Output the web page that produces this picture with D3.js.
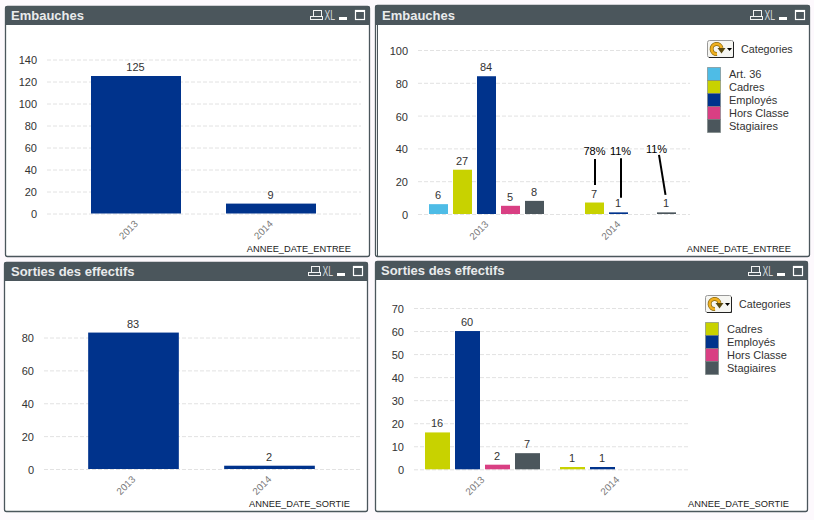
<!DOCTYPE html>
<html><head><meta charset="utf-8">
<script src="https://cdnjs.cloudflare.com/ajax/libs/d3/7.8.5/d3.min.js"></script>
<style>
html,body{margin:0;padding:0;background:#fdf9fd;}
svg{display:block;font-family:"Liberation Sans",Arial,sans-serif;}
.grid line{stroke:#e2e2e2;stroke-dasharray:4 2;}
</style></head><body>
<svg id="c" width="814" height="520"></svg>
<script>
const years = ["2013","2014"];
const entreeTitle = "Embauches";
const sortieTitle = "Sorties des effectifs";
const entreeField = "ANNEE_DATE_ENTREE";
const sortieField = "ANNEE_DATE_SORTIE";
const legendTitle = "Categories";

const totalEntrees = [125,9];
const totalSorties = [83,2];

const entreeCats = ["Art. 36","Cadres","Employés","Hors Classe","Stagiaires"];
const entree2013 = [6,27,84,5,8];
const entree2014 = [null,7,1,null,1];
const entree2014Pct = [null,"78%","11%",null,"11%"];

const sortieCats = ["Cadres","Employés","Hors Classe","Stagiaires"];
const sortie2013 = [16,60,2,7];
const sortie2014 = [1,1,null,null];

const ticksA = [0,20,40,60,80,100,120,140];
const ticksB = [0,20,40,60,80,100];
const ticksC = [0,20,40,60,80];
const ticksD = [0,10,20,30,40,50,60,70];

const catColor = d3.scaleOrdinal()
  .domain(["Art. 36","Cadres","Employés","Hors Classe","Stagiaires"])
  .range(["#4ebce6","#c8d200","#00338c","#d93f83","#4b565c"]);
const BLUE = "#00338c", HEAD = "#4b565c", TXT = "#333";

const svg = d3.select("#c");

function panel(b){
  const g = svg.append("g");
  g.append("rect").attr("x",b.x+.5).attr("y",b.y+.5).attr("width",b.w).attr("height",b.h)
    .attr("rx",2).attr("fill","#fff").attr("stroke",HEAD).attr("stroke-width",1.3);
  if(b.dbl) g.append("path").attr("d",`M${b.x+2.5} ${b.y+b.hh}V${b.y+b.h}`).attr("stroke",HEAD).attr("fill","none");
  g.append("path").attr("fill",HEAD)
    .attr("d",`M${b.x} ${b.y+b.hh}V${b.y+2}q0-2 2-2H${b.x+b.w-1}q2 0 2 2V${b.y+b.hh}Z`);
  g.append("text").attr("x",b.x+b.tx).attr("y",b.ty).attr("fill","#e9ebec")
    .attr("font-size",13).attr("font-weight","bold").text(b.title);
  const r = b.x+b.w, t = b.iy;
  const ic = g.append("g").attr("fill","none").attr("stroke","#f2f3f3");
  ic.append("rect").attr("x",r-55.5).attr("y",t+.5).attr("width",8).attr("height",6);
  ic.append("rect").attr("x",r-58.5).attr("y",t+6.5).attr("width",12).attr("height",3);
  g.append("text").attr("transform",`translate(${r-44.5},${t+10}) scale(.62,1)`).attr("fill","#d4d8da")
    .attr("font-size",14).text("XL");
  g.append("rect").attr("x",r-30).attr("y",t+7).attr("width",8).attr("height",3).attr("fill","#fff");
  ic.append("rect").attr("x",r-13.5).attr("y",t+.5).attr("width",9).attr("height",9)
    .attr("stroke-width",1.2).attr("stroke","#fff");
  ic.append("rect").attr("x",r-14).attr("y",t).attr("width",10).attr("height",2).attr("fill","#fff").attr("stroke","none");
  return g;
}

function yAxis(g,y,ticks,x0,x1){
  const gr = g.append("g").attr("class","grid").attr("transform",`translate(${x0},0)`)
    .call(d3.axisRight(y).tickValues(ticks).tickSize(x1-x0).tickFormat(""));
  gr.select(".domain").remove();
  const a = g.append("g").attr("transform",`translate(${x0-10},0)`)
    .call(d3.axisLeft(y).tickValues(ticks).tickSize(0).tickPadding(0));
  a.select(".domain").remove();
  a.selectAll("text").attr("font-size",11).attr("font-family","inherit").attr("fill",TXT).attr("dy","4.4px");
}

function xAxis(g,x,y0){
  const a = g.append("g").attr("transform",`translate(0,${y0})`).call(d3.axisBottom(x).tickSize(0).tickPadding(0));
  a.select(".domain").remove();
  a.selectAll("text").attr("font-size",9.8).attr("font-family","inherit").attr("fill","#777")
    .attr("text-anchor","end").attr("dy",0)
    .attr("transform","translate(2.5,11) rotate(-45)");
}

function valueLabel(g,x,y,v){
  g.append("text").attr("x",x-.5).attr("y",y-5).attr("text-anchor","middle")
    .attr("font-size",11).attr("fill",TXT).text(v);
}

function fieldLabel(g,o){
  g.append("text").attr("x",o.fx).attr("y",o.fy).attr("text-anchor","end").attr("font-size",9.3).attr("fill","#222").text(o.field);
}

function totals(g,vals,o){
  const x = d3.scaleBand().domain(years).range(o.xr).paddingInner(o.pad).paddingOuter(o.pad/2);
  const y = d3.scaleLinear().domain([0,o.max]).range(o.yr);
  yAxis(g,y,o.ticks,o.gx[0],o.gx[1]);
  g.selectAll("rect.bar").data(years).join("rect").attr("class","bar")
    .attr("x",d=>x(d)).attr("width",x.bandwidth())
    .attr("y",(d,i)=>y(vals[i])).attr("height",(d,i)=>y(0)-y(vals[i])).attr("fill",BLUE);
  years.forEach((d,i)=>valueLabel(g,x(d)+x.bandwidth()/2,y(vals[i]),vals[i]));
  xAxis(g,x,y(0));
  fieldLabel(g,o);
}

function grouped(g,cats,series,o){
  const x0 = d3.scaleBand().domain(years).range(o.xr);
  const x1 = d3.scaleBand().domain(cats).range([x0.bandwidth()/2-o.step*cats.length/2,x0.bandwidth()/2+o.step*cats.length/2]).padding(0);
  const y = d3.scaleLinear().domain([0,o.max]).range(o.yr);
  yAxis(g,y,o.ticks,o.gx[0],o.gx[1]);
  years.forEach((yr,si)=>{
    cats.forEach((c,i)=>{
      const v = series[si][i];
      if(v==null) return;
      const bx = x0(yr)+x1(c)+(o.step-o.bw)/2;
      g.append("rect").attr("x",bx).attr("width",o.bw).attr("y",y(v)).attr("height",y(0)-y(v)).attr("fill",catColor(c));
      valueLabel(g,bx+o.bw/2,y(v),v);
      if(o.pct && si===1 && o.pct[i]){
        const cx = bx+o.bw/2, top = y(v)-o.lift[i], lx = cx+o.ldx[i];
        const path = `M${lx} ${top}L${lx-o.lean[i]} ${top-o.len[i]}`;
        g.append("path").attr("d",path).attr("fill","none").attr("stroke","#000").attr("stroke-width",2);
        g.append("text").attr("x",cx+o.pdx[i]).attr("y",top-o.len[i]-o.pdy[i]).attr("text-anchor","middle")
          .attr("font-size",11).attr("fill","#000").text(o.pct[i]);
      }
    });
  });
  xAxis(g,x0,y(0));
  fieldLabel(g,o);
  legend(g,cats,o.lx,o.ly);
}

function legend(g,cats,lx,ly){
  const bt = g.append("g").attr("transform",`translate(${lx},${ly-27})`);
  bt.append("rect").attr("x",.5).attr("y",.5).attr("width",26).attr("height",17).attr("rx",2).attr("fill","#f6f6f2").attr("stroke","#999");
  bt.append("path").attr("d","M26.5 2V17.5H2").attr("fill","none").attr("stroke","#222");
  const arc = "M10 14A5 5 0 1 1 14.5 8";
  bt.append("path").attr("d",arc).attr("fill","none").attr("stroke","#8a6a10").attr("stroke-width",4);
  bt.append("path").attr("d",arc).attr("fill","none").attr("stroke","#f0b020").attr("stroke-width",2.6);
  bt.append("path").attr("d","M10.5 8H18.5L14.5 13.5Z").attr("fill","#5a4a10");
  bt.append("path").attr("d","M20 8H25L22.5 11Z").attr("fill","#000");
  g.append("text").attr("x",lx+34).attr("y",ly-14.5).attr("font-size",10.7).attr("fill",TXT).text(legendTitle);
  const y = d3.scaleBand().domain(cats).range([ly,ly+13*cats.length]);
  cats.forEach(c=>{
    g.append("rect").attr("x",lx+.5).attr("y",y(c)+.5).attr("width",13).attr("height",y.bandwidth()).attr("fill",catColor(c)).attr("stroke","#77807f").attr("stroke-opacity",.6);
    g.append("text").attr("x",lx+22).attr("y",y(c)+10.5).attr("font-size",11).attr("fill",TXT).text(c);
  });
}

const p1 = panel({x:5,y:6,w:364,h:250,hh:19,tx:6,ty:20,iy:10,title:entreeTitle});
totals(p1,totalEntrees,{xr:[68.5,338.5],pad:1/3,max:140,yr:[213.5,59.5],ticks:ticksA,gx:[47,361],field:entreeField,fx:351,fy:252});

const p2 = panel({x:375,y:5,w:434,h:251,hh:20,tx:7,ty:20,iy:10,dbl:true,title:entreeTitle});
grouped(p2,entreeCats,[entree2013,entree2014],{xr:[420.5,684.5],step:24,bw:19,max:100,yr:[214,50],ticks:ticksB,gx:[418,690],
  field:entreeField,fx:791,fy:252,lx:707,ly:67,pct:entree2014Pct,
  lift:[0,17.5,14.7,0,17.4],len:[0,26,39.4,0,40],ldx:[0,.5,2.5,0,-1],lean:[0,0,0,0,6.5],pdx:[0,0,2,0,-10],pdy:[0,4,3.3,0,1.7]});

const p3 = panel({x:4,y:262,w:363,h:249,hh:19,tx:7,ty:276,iy:266,title:sortieTitle});
totals(p3,totalSorties,{xr:[65.5,337.5],pad:1/3,max:80,yr:[469,337.5],ticks:ticksC,gx:[44,360],field:sortieField,fx:350,fy:507});

const p4 = panel({x:375,y:261,w:432,h:250,hh:19,tx:6,ty:275,iy:266,title:sortieTitle});
grouped(p4,sortieCats,[sortie2013,sortie2014],{xr:[415,685],step:30,bw:25,max:70,yr:[469.3,308],ticks:ticksD,gx:[414,688],
  field:sortieField,fx:789,fy:507,lx:705,ly:322});
</script></body></html>
